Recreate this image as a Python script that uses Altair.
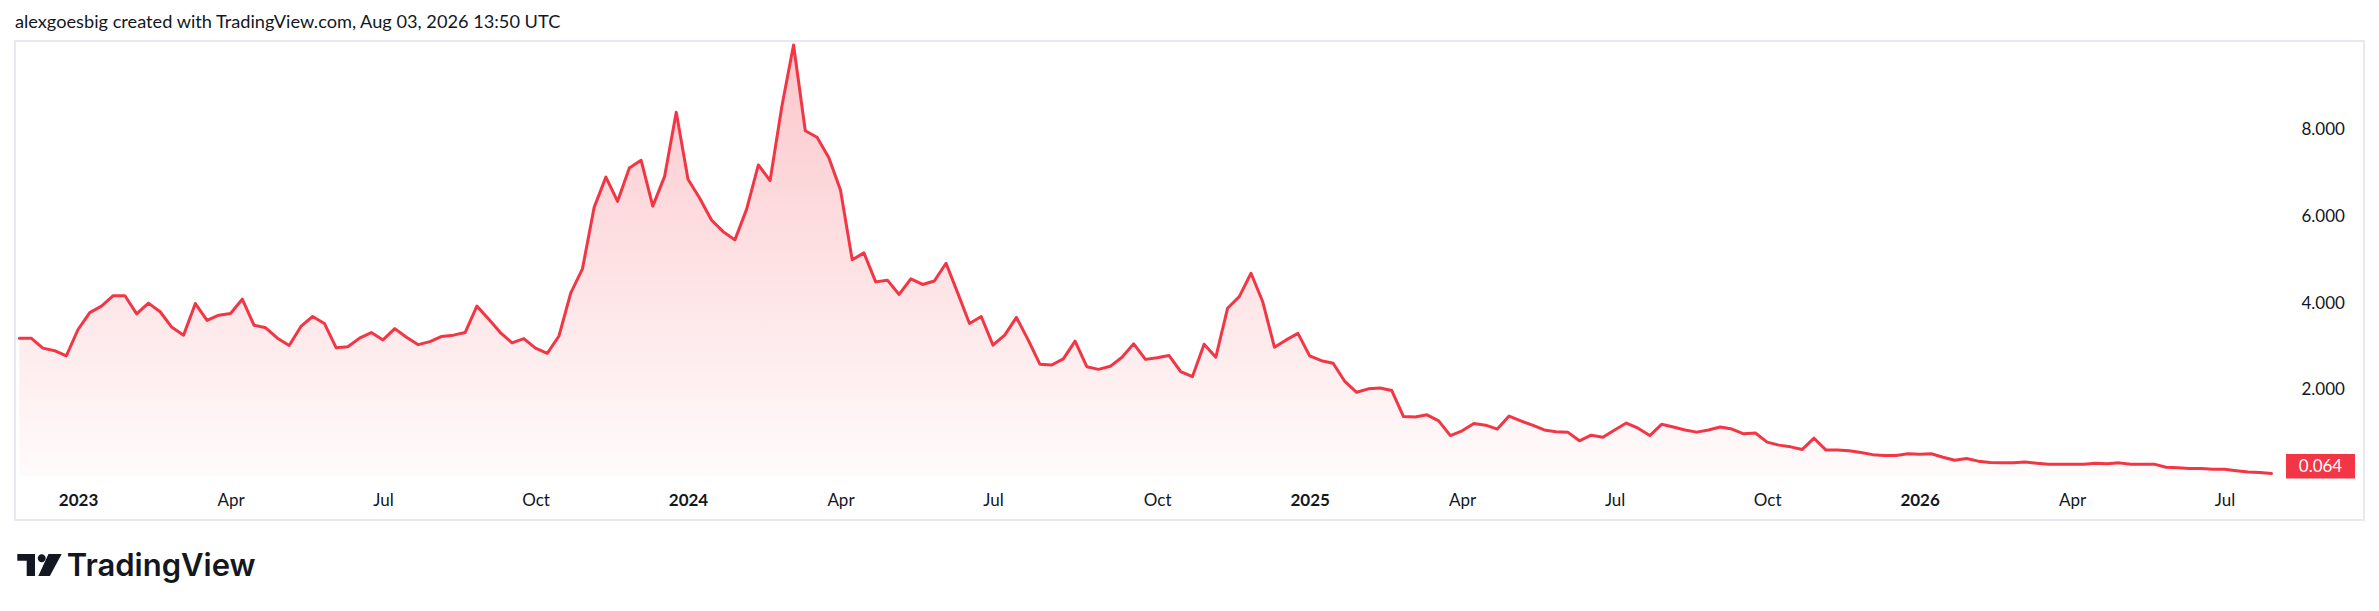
import altair as alt
import pandas as pd

# ---------------- data ----------------
start_date = "2022-11-28"          # first weekly bar (Monday)
values = [
    3.19, 3.19, 2.96, 2.90, 2.78, 3.39, 3.78, 3.93, 4.17, 4.17,
    3.75, 4.00, 3.80, 3.44, 3.26, 3.99, 3.60, 3.72, 3.76, 4.09,
    3.49, 3.43, 3.19, 3.02, 3.46, 3.69, 3.53, 2.97, 2.99, 3.19,
    3.32, 3.15, 3.41, 3.21, 3.04, 3.11, 3.23, 3.26, 3.32, 3.93,
    3.63, 3.32, 3.08, 3.18, 2.96, 2.84, 3.24, 4.23, 4.79, 6.21,
    6.91, 6.35, 7.12, 7.30, 6.24, 6.92, 8.41, 6.86, 6.42, 5.92,
    5.65, 5.46, 6.17, 7.19, 6.83, 8.54, 9.96, 7.98, 7.83, 7.36,
    6.61, 5.00, 5.16, 4.49, 4.53, 4.20, 4.56, 4.43, 4.51, 4.92,
    4.23, 3.53, 3.69, 3.03, 3.26, 3.67, 3.15, 2.59, 2.57, 2.71,
    3.12, 2.53, 2.47, 2.54, 2.75, 3.06, 2.70, 2.74, 2.79, 2.42,
    2.30, 3.05, 2.75, 3.88, 4.15, 4.69, 4.03, 2.98, 3.15, 3.30,
    2.78, 2.67, 2.61, 2.19, 1.94, 2.02, 2.04, 1.98, 1.38, 1.37,
    1.42, 1.28, 0.94, 1.05, 1.22, 1.18, 1.09, 1.39, 1.28, 1.18,
    1.07, 1.03, 1.02, 0.82, 0.95, 0.90, 1.07, 1.23, 1.11, 0.94,
    1.20, 1.14, 1.07, 1.02, 1.07, 1.14, 1.09, 0.98, 1.00, 0.79,
    0.72, 0.68, 0.62, 0.88, 0.61, 0.61, 0.59, 0.55, 0.50, 0.48,
    0.48, 0.52, 0.51, 0.52, 0.44, 0.37, 0.41, 0.35, 0.32, 0.31,
    0.31, 0.33, 0.30, 0.28, 0.28, 0.28, 0.28, 0.30, 0.29, 0.31,
    0.28, 0.28, 0.28, 0.21, 0.20, 0.18, 0.18, 0.16, 0.16, 0.13,
    0.10, 0.09, 0.064,
]
tick_dates = [
    "2023-01-02", "2023-04-03", "2023-07-03", "2023-10-02",
    "2024-01-01", "2024-04-01", "2024-07-01", "2024-10-07",
    "2025-01-06", "2025-04-07", "2025-07-07", "2025-10-06",
    "2026-01-05", "2026-04-06", "2026-07-06",
]
y_ticks = [2, 4, 6, 8]
last_label = "0.064"
title_text = "alexgoesbig created with TradingView.com, Aug 03, 2026 13:50 UTC"
brand_text = "TradingView"

# ---------------- build ----------------
t0 = pd.Timestamp(start_date)
dates = [(t0 + pd.Timedelta(weeks=i)).strftime("%Y-%m-%d") for i in range(len(values))]
df = pd.DataFrame({"date": dates, "value": values})

DAY = 86400000
t0_ms = int(t0.value // 10**6)
x_domain = [t0_ms - 2.03 * DAY, t0_ms + 1355.04 * DAY]
tick_ms = [int(pd.Timestamp(d).value // 10**6) for d in tick_dates]

W, H = 2274, 442
RED = "#F23645"
INK = "#131722"
FONT = "Lato"

x_enc = alt.X(
    "date:T",
    scale=alt.Scale(type="utc", domain=x_domain, nice=False),
    axis=alt.Axis(
        values=tick_ms,
        labelExpr="utcmonth(datum.value) == 0 ? utcFormat(datum.value, '%Y') : utcFormat(datum.value, '%b')",
        labelFontWeight={"condition": {"test": "utcmonth(datum.value) == 0", "value": "bold"}, "value": "normal"},
        labelFont=FONT, labelFontSize=17, labelColor=INK,
        labelBaseline="middle", labelPadding=16.8, labelAlign="center",
        labelFlush=False, labelOverlap=False,
        domain=False, ticks=False, tickSize=0, grid=False, title=None,
    ),
)
y_enc = alt.Y(
    "value:Q",
    scale=alt.Scale(domain=[-0.178, 10.03], nice=False, zero=False),
    axis=alt.Axis(
        orient="right", values=y_ticks, format=".3f",
        labelFont=FONT, labelFontSize=17, labelColor=INK,
        labelPadding=11, domain=False, ticks=False, tickSize=0, grid=False, title=None,
    ),
)

base = alt.Chart(df)
area = base.mark_area(
    color=alt.Gradient(
        gradient="linear",
        stops=[
            alt.GradientStop(color="rgba(242,54,69,0.02)", offset=0),
            alt.GradientStop(color="rgba(242,54,69,0.28)", offset=1),
        ],
        x1=1, x2=1, y1=1, y2=0,
    )
).encode(x=x_enc, y=y_enc)
line = base.mark_line(color=RED, strokeWidth=3, strokeJoin="round", strokeCap="round").encode(x="date:T", y="value:Q")

one = pd.DataFrame({"k": [0]})
frame = alt.Chart(one).mark_rect(fill="white", fillOpacity=0, stroke="#e6e9f0", strokeWidth=2).encode(
    x=alt.value(-1), x2=alt.value(2348), y=alt.value(-1), y2=alt.value(478)
)
title = alt.Chart(one).mark_text(
    text=title_text, align="left", baseline="middle", font=FONT, fontSize=18.2, color=INK
).encode(x=alt.value(-1), y=alt.value(-18.6))

price_box = alt.Chart(one).mark_rect(color=RED).encode(
    x=alt.value(2270), x2=alt.value(2339), y=alt.value(412), y2=alt.value(436.5)
)
price_text = alt.Chart(one).mark_text(
    text=last_label, align="center", baseline="middle", font=FONT, fontSize=17, color="white"
).encode(x=alt.value(2304.5), y=alt.value(424.5))

icon_path = (
    "M-0.965,-0.478 L-0.196,-0.478 L-0.196,0.478 L-0.557,0.478 L-0.557,-0.187 L-0.965,-0.187 Z "
    "M-0.078,-0.291 a0.174,0.174 0 1,0 0.348,0 a0.174,0.174 0 1,0 -0.348,0 Z "
    "M0.39,-0.478 L0.965,-0.478 L0.45,0.478 L-0.05,0.478 Z"
)
icon = alt.Chart(one).mark_point(
    shape=icon_path, size=2116, filled=True, color=INK, opacity=1, strokeWidth=0
).encode(x=alt.value(23.5), y=alt.value(523))
brand = alt.Chart(one).mark_text(
    text=brand_text, align="left", baseline="alphabetic", font="Inter", fontSize=31,
    fontWeight=600, color=INK
).encode(x=alt.value(50.7), y=alt.value(534))

chart = alt.layer(frame, area, line, price_box, price_text, title, icon, brand).properties(
    width=W, height=H,
    padding={"left": 8, "top": 34, "right": 81, "bottom": 119},
    autosize=alt.AutoSizeParams(type="none"),
    background="white",
).configure_view(stroke=None)

chart.save("out.html", embed_options={"renderer": "svg", "actions": False})
